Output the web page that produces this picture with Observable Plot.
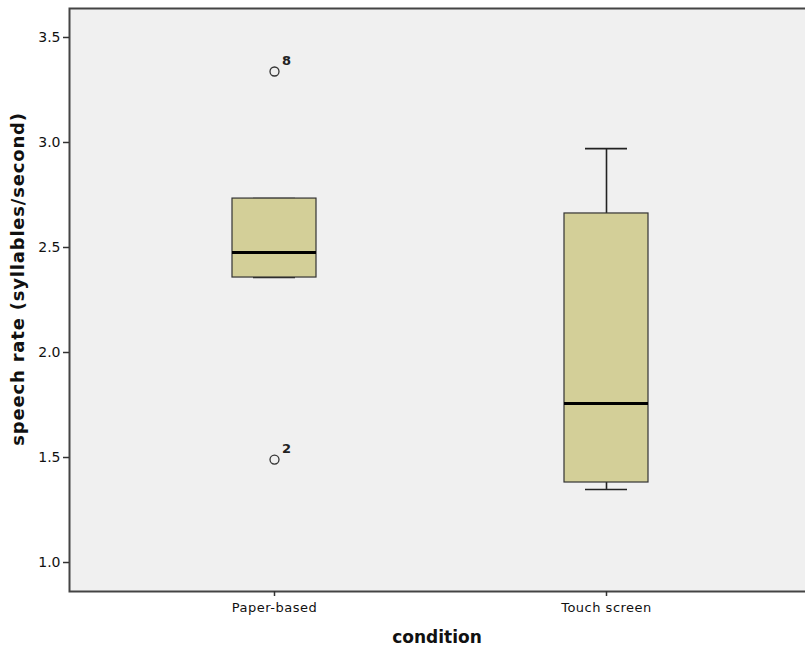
<!DOCTYPE html>
<html>
<head>
<meta charset="utf-8">
<script src="https://cdn.jsdelivr.net/npm/d3@7"></script>
<script src="https://cdn.jsdelivr.net/npm/@observablehq/plot@0.6"></script>
<style>
  html, body { margin: 0; padding: 0; background: white; overflow: hidden; }
  #chart svg { max-width: none; }
  .xax text { letter-spacing: 0.5px; }
</style>
</head>
<body>
<div id="chart"></div>
<script>
// ---- data ----
const categories   = ["Paper-based", "Touch screen"];
const whiskerLow   = [2.357, 1.348];
const q1           = [2.357, 1.381];
const median       = [2.476, 1.757];
const q3           = [2.733, 2.662];
const whiskerHigh  = [2.733, 2.971];

const outlierCategory = ["Paper-based", "Paper-based"];
const outlierValue    = [3.338, 1.490];
const outlierLabel    = ["8", "2"];

const yTicks = [1.0, 1.5, 2.0, 2.5, 3.0, 3.5];
const xTitle = "condition";
const yTitle = "speech rate (syllables/second)";

// ---- tables built from the arrays ----
const boxes = categories.map((c, i) => ({
  cat: c, lo: whiskerLow[i], q1: q1[i], med: median[i], q3: q3[i], hi: whiskerHigh[i]
}));
const outliers = outlierValue.map((v, i) => ({cat: outlierCategory[i], v, label: outlierLabel[i]}));

const font = "'DejaVu Sans', 'Lucida Grande', sans-serif";

const chart = Plot.plot({
  width: 810,
  height: 652,
  marginLeft: 69,
  marginRight: 0,
  marginTop: 8,
  marginBottom: 61,
  style: {fontFamily: font, fontSize: "12px", color: "#111", background: "white"},
  x: {domain: categories, paddingInner: 0.7477, paddingOuter: 0.4865, label: null},
  y: {domain: [0.862, 3.638], label: null},
  marks: [
    Plot.frame({fill: "#f0f0f0", stroke: "#444", strokeWidth: 2}),
    Plot.axisY({ticks: yTicks, tickFormat: d3.format(".1f"), tickSize: 6, tickPadding: 3, stroke: "#333", strokeWidth: 1.5, label: null, fontSize: 14}),
    Plot.axisX({tickSize: 5, tickPadding: 6, stroke: "#333", strokeWidth: 1.5, label: null, fontSize: 13, className: "xax"}),
    // whiskers
    Plot.ruleX(boxes, {x: "cat", y1: "q3", y2: "hi", stroke: "#222", strokeWidth: 1.6}),
    Plot.ruleX(boxes, {x: "cat", y1: "lo", y2: "q1", stroke: "#222", strokeWidth: 1.6}),
    Plot.tickY(boxes, {x: "cat", y: "hi", stroke: "#222", strokeWidth: 1.6, insetLeft: 21, insetRight: 21}),
    Plot.tickY(boxes, {x: "cat", y: "lo", stroke: "#222", strokeWidth: 1.6, insetLeft: 21, insetRight: 21}),
    // boxes
    Plot.barY(boxes, {x: "cat", y1: "q1", y2: "q3", fill: "#d3cf98", stroke: "#333", strokeWidth: 1.2}),
    // medians
    Plot.tickY(boxes, {x: "cat", y: "med", stroke: "#000", strokeWidth: 3}),
    // outliers
    Plot.dot(outliers, {x: "cat", y: "v", r: 4.5, stroke: "#333", strokeWidth: 1.3, fill: "none"}),
    Plot.text(outliers, {x: "cat", y: "v", text: "label", dx: 12, dy: -11, fontSize: 13, fontWeight: "bold", fill: "#222"}),
    // axis titles
    Plot.text([xTitle], {text: d => d, frameAnchor: "bottom", dy: 51, dx: -3, fontSize: 17, fontWeight: "bold", fill: "#111"}),
    Plot.text([yTitle], {text: d => d, frameAnchor: "left", textAnchor: "middle", dx: -51, dy: -21, rotate: -90, fontSize: 18, fontWeight: "bold", fill: "#111", className: "ytitle"})
  ]
});
chart.style.maxWidth = "none";
chart.querySelectorAll(".ytitle text").forEach(t => t.style.letterSpacing = "0.8px");
document.getElementById("chart").append(chart);
</script>
</body>
</html>
